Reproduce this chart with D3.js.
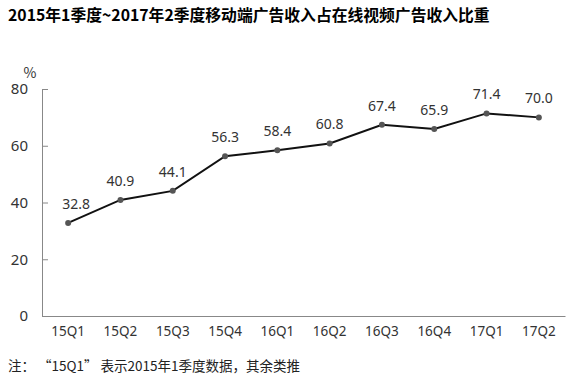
<!DOCTYPE html>
<html>
<head>
<meta charset="utf-8">
<script src="https://cdn.jsdelivr.net/npm/d3@7"></script>
<style>
  body { margin: 0; background: #fff; }
  svg { display: block; font-family: "Noto Sans CJK SC", "Noto Sans", sans-serif; }
</style>
</head>
<body>
<div id="chart"></div>
<script>
var quarters = ["15Q1", "15Q2", "15Q3", "15Q4", "16Q1", "16Q2", "16Q3", "16Q4", "17Q1", "17Q2"];
var shares = [32.8, 40.9, 44.1, 56.3, 58.4, 60.8, 67.4, 65.9, 71.4, 70.0];
var yTicks = [0, 20, 40, 60, 80];

var width = 575, height = 383;
var margin = { left: 42, right: 10, top: 89, bottom: 67 };

var svg = d3.select("#chart")
  .append("svg")
    .attr("width", width)
    .attr("height", height);

// title
svg.append("text")
  .attr("x", 8)
  .attr("y", 21)
  .attr("font-size", "15.8px")
  .attr("font-weight", "bold")
  .attr("fill", "#000")
  .text("2015年1季度~2017年2季度移动端广告收入占在线视频广告收入比重");

var x = d3.scaleBand()
  .domain(quarters)
  .range([margin.left, width - margin.right]);

var y = d3.scaleLinear()
  .domain([0, 80])
  .range([height - margin.bottom, margin.top]);

// y axis
var yAxis = svg.append("g")
  .attr("transform", "translate(" + margin.left + ",0)")
  .call(d3.axisLeft(y).tickValues(yTicks).tickSize(-6).tickPadding(14));
yAxis.select(".domain").attr("stroke", "#888");
yAxis.selectAll(".tick line").attr("stroke", "#888");
yAxis.selectAll("text").attr("font-size", "15px").attr("fill", "#333")
  .attr("font-family", "Noto Sans, sans-serif");

// x axis
var xAxis = svg.append("g")
  .attr("transform", "translate(0," + (height - margin.bottom) + ")")
  .call(d3.axisBottom(x).tickSize(0).tickPadding(10));
xAxis.select(".domain").attr("stroke", "#888");
xAxis.selectAll("text").attr("font-size", "13.5px").attr("fill", "#333")
  .attr("font-family", "Noto Sans, sans-serif");

// unit
svg.append("text")
  .attr("x", 30)
  .attr("y", 78)
  .attr("text-anchor", "middle")
  .attr("font-size", "14px")
  .attr("fill", "#333")
  .text("%");

var cx = function(d, i) { return x(quarters[i]) + x.bandwidth() / 2; };

var line = d3.line()
  .x(function(d, i) { return cx(d, i); })
  .y(function(d) { return y(d); });

svg.append("path")
  .datum(shares)
  .attr("d", line)
  .attr("fill", "none")
  .attr("stroke", "#111")
  .attr("stroke-width", 2);

svg.selectAll("circle.pt")
  .data(shares)
  .enter()
  .append("circle")
    .attr("class", "pt")
    .attr("cx", cx)
    .attr("cy", function(d) { return y(d); })
    .attr("r", 3)
    .attr("fill", "#555");

svg.selectAll("text.lbl")
  .data(shares)
  .enter()
  .append("text")
    .attr("class", "lbl")
    .attr("x", function(d, i) { return cx(d, i) + (i === 0 ? 8 : 0); })
    .attr("y", function(d) { return y(d) - 14; })
    .attr("text-anchor", "middle")
    .attr("font-size", "14px")
    .attr("fill", "#333")
    .attr("font-family", "Noto Sans, sans-serif")
    .text(function(d) { return d.toFixed(1); });

// note
svg.append("text")
  .attr("x", 8)
  .attr("y", 371)
  .attr("font-size", "13.5px")
  .attr("fill", "#222")
  .text("注： “15Q1” 表示2015年1季度数据，其余类推");
</script>
</body>
</html>
